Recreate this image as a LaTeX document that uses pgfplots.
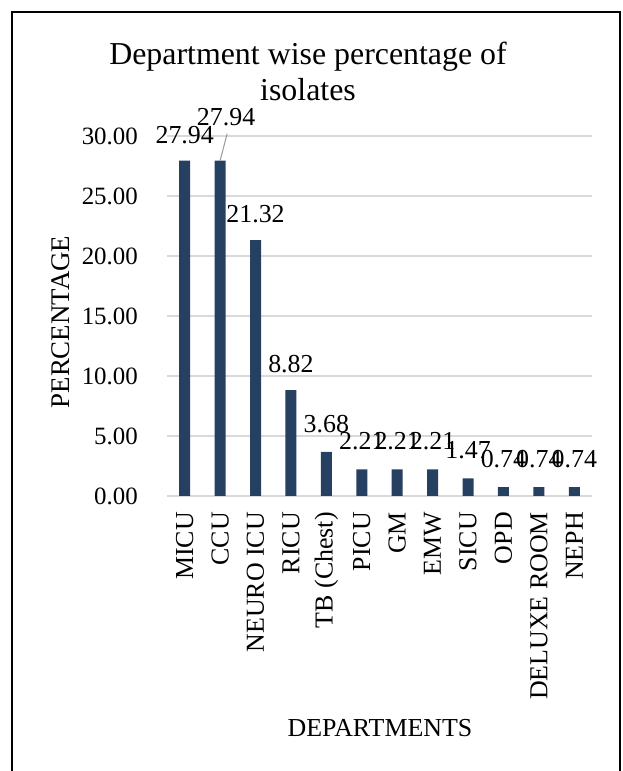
\documentclass[border=0pt]{standalone}
\usepackage{pgfplots}
\pgfplotsset{compat=1.18}
\usepackage{fontspec}
\setmainfont{Liberation Serif}
\definecolor{barblue}{RGB}{38,64,98}
\definecolor{gridgray}{RGB}{217,217,217}
\begin{document}
\begin{tikzpicture}
\useasboundingbox (0,0) rectangle (623bp,771bp);
\begin{axis}[
  at={(167bp,275bp)}, anchor=south west,
  scale only axis, width=425bp, height=360bp,
  xmin=-0.5, xmax=11.5, ymin=0, ymax=30,
  ybar, bar width=11bp,
  clip=false,
  xtick={0,...,11},
  xticklabels={MICU,CCU,NEURO ICU,RICU,TB (Chest),PICU,GM,EMW,SICU,OPD,DELUXE ROOM,NEPH},
  ytick={0,5,...,30},
  ymajorgrids,
  grid style={gridgray, line width=1.3bp},
  axis line style={draw=none},
  major tick length=0pt,
  tick style={draw=none},
  /pgf/number format/assume math mode=true,
  yticklabel={\pgfmathprintnumber[fixed,fixed zerofill,precision=2]{\tick}},
  yticklabel style={font=\fontsize{25}{29}\selectfont, inner sep=0pt, anchor=east},
  yticklabel shift=29bp,
  xticklabel style={font=\fontsize{26}{30}\selectfont, inner sep=0pt, rotate=90, anchor=east},
  xticklabel shift=16bp,
  visualization depends on={\thisrow{dx} \as \dx},
  visualization depends on={\thisrow{dy} \as \dy},
  nodes near coords={\pgfmathprintnumber[fixed,fixed zerofill,precision=2]{\pgfplotspointmeta}},
  every node near coord/.append style={font=\fontsize{26}{30}\selectfont, inner sep=0pt, anchor=base, text=black, xshift=\dx bp, yshift=\dy bp},
]
\addplot[fill=barblue, draw=none] table[x=x, y=y] {
x y dx dy
0 27.94 0 17
1 27.94 6 35
2 21.32 0 18
3 8.82 0 18
4 3.68 0 19
5 2.21 0 20
6 2.21 0 20
7 2.21 0 20
8 1.47 0 20
9 0.74 0 20
10 0.74 0 20
11 0.74 0 20
};
\draw[gray!80, line width=1bp] (axis cs:1,27.94) -- ([xshift=7bp,yshift=27bp]axis cs:1,27.94);
\end{axis}
\node[anchor=base, font=\fontsize{32}{36}\selectfont] at (308bp,706bp) {Department wise percentage of};
\node[anchor=base, font=\fontsize{32}{36}\selectfont] at (308bp,670bp) {isolates};
\node[rotate=90, font=\fontsize{27}{31}\selectfont] at (61bp,449bp) {PERCENTAGE};
\node[font=\fontsize{26}{30}\selectfont] at (380bp,43bp) {DEPARTMENTS};
\draw[line width=1.5bp] (12bp,-10bp) -- (12bp,759bp) -- (620bp,759bp) -- (620bp,-10bp);
\end{tikzpicture}
\end{document}
